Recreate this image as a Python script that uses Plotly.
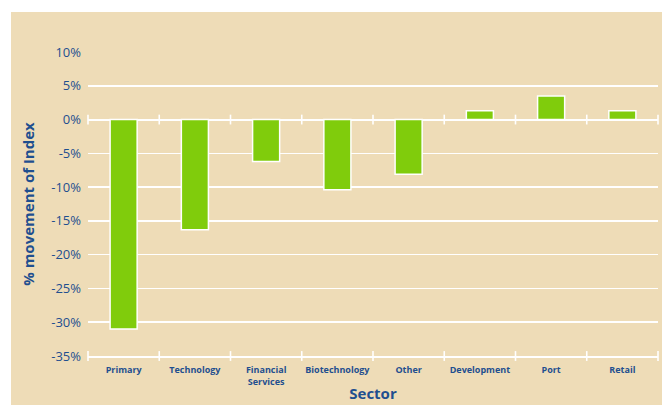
import plotly.graph_objects as go

categories = ["Primary", "Technology", "Financial<br>Services", "Biotechnology",
              "Other", "Development", "Port", "Retail"]
values = [-31.0, -16.3, -6.2, -10.4, -8.1, 1.3, 3.5, 1.3]
y_ticks = [10, 5, 0, -5, -10, -15, -20, -25, -30, -35]
y_labels = ["10%", "5%", "0%", "-5%", "-10%", "-15%", "-20%", "-25%", "-30%", "-35%"]

BG = "#eedcb7"
GREEN = "#80cc0c"
TXT = "#1f4f8f"
FONT = "Open Sans"

x_idx = list(range(len(categories)))
bounds = [i - 0.5 for i in range(len(categories) + 1)]

fig = go.Figure()
fig.add_trace(go.Bar(
    x=x_idx, y=values, width=0.38,
    marker=dict(color=GREEN, line=dict(color="white", width=1.5)),
    showlegend=False, hoverinfo="skip",
))
# boundary tick marks on the zero line and on the bottom axis
for yv in (0, -35):
    fig.add_trace(go.Scatter(
        x=bounds, y=[yv] * len(bounds), mode="markers",
        marker=dict(symbol="line-ns", size=7, line=dict(color="white", width=1.6)),
        showlegend=False, hoverinfo="skip", cliponaxis=False,
    ))

W, H = 662, 405
L, R, T, B = 88, 4, 52, 49
pw = W - L - R
ph = H - T - B
fig.update_layout(
    width=W, height=H, autosize=False,
    margin=dict(l=L, r=R, t=T, b=B, pad=0, autoexpand=False),
    paper_bgcolor=BG, plot_bgcolor=BG,
    font=dict(family=FONT, color=TXT),
    bargap=0,
    xaxis=dict(
        range=[-0.5, 7.5], tickvals=x_idx, ticktext=["<b>%s</b>" % c for c in categories],
        tickfont=dict(size=9, color=TXT, family=FONT), ticks="", showgrid=False,
        zeroline=False, showline=True, linecolor="white", linewidth=2,
        ticklabelstandoff=4, automargin=False,
        title=dict(text="<b>Sector</b>", font=dict(size=15, color=TXT, family=FONT), standoff=2),
        fixedrange=True,
    ),
    yaxis=dict(
        range=[-35, 10], tickvals=y_ticks, ticktext=y_labels,
        tickfont=dict(size=13, color=TXT, family=FONT), ticks="",
        showgrid=True, gridcolor="white", gridwidth=1.6,
        zeroline=True, zerolinecolor="white", zerolinewidth=2,
        showline=False, ticklabelstandoff=6, automargin=False,
        title=dict(text="<b>% movement of Index</b>", font=dict(size=15, color=TXT, family=FONT), standoff=12),
        fixedrange=True,
    ),
    shapes=[
        # white strips at the top and left (outer frame)
        dict(type="rect", xref="paper", yref="paper", layer="above",
             x0=-L / pw, x1=(W - L) / pw, y0=(H - B - 12) / ph, y1=(H - B) / ph,
             fillcolor="white", line=dict(width=0)),
        dict(type="rect", xref="paper", yref="paper", layer="above",
             x0=-L / pw, x1=(11 - L) / pw, y0=-B / ph, y1=(H - B) / ph,
             fillcolor="white", line=dict(width=0)),
    ],
)

fig.write_html(
    "out.html",
    config={"displayModeBar": False, "staticPlot": True},
    post_script=(
        "document.documentElement.style.margin='0';"
        "document.documentElement.style.padding='0';"
        "document.documentElement.style.overflow='hidden';"
        "document.body.style.margin='0';document.body.style.padding='0';"
        "document.body.style.overflow='hidden';window.scrollTo(0,0);"
    ),
)
